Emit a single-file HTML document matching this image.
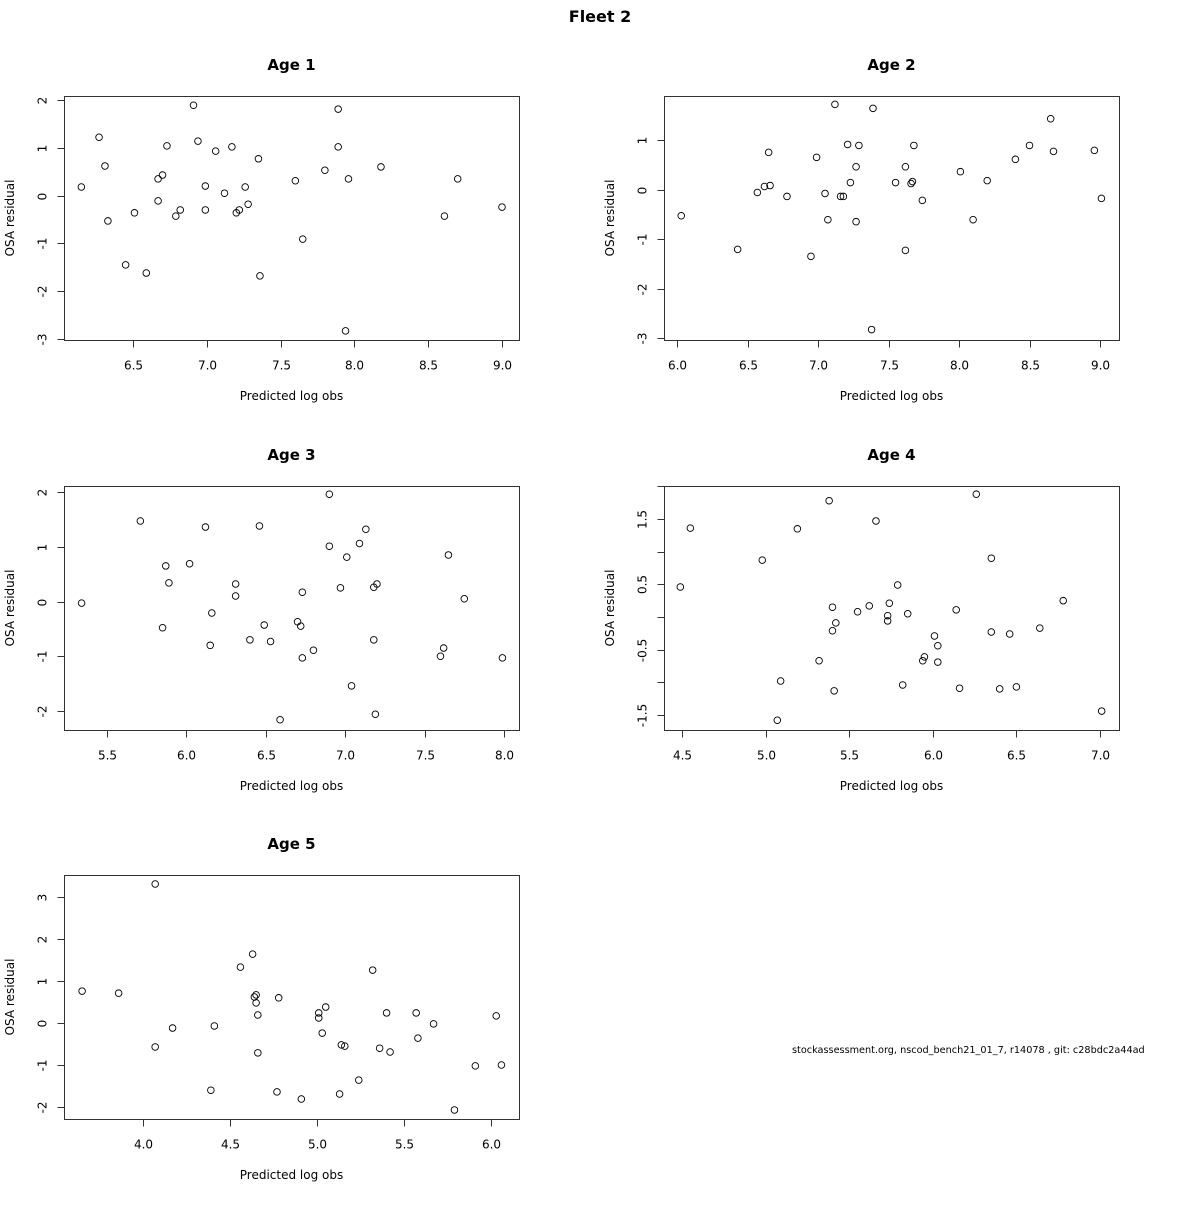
<!DOCTYPE html>
<html><head><meta charset="utf-8"><style>
body{margin:0;background:#fff;}
svg text{font-family:"DejaVu Sans","Liberation Sans",sans-serif;fill:#000;}
</style></head><body>
<svg id="chart" width="1200" height="1200" xmlns="http://www.w3.org/2000/svg">
<rect width="1200" height="1200" fill="#fff"/>
<text x="600" y="22" text-anchor="middle" font-size="16" font-weight="bold">Fleet 2</text>
<text x="792" y="1053" font-size="9.7">stockassessment.org, nscod_bench21_01_7, r14078 , git: c28bdc2a44ad</text>
</svg>
<script>
const age1X=[6.15,6.27,6.31,6.33,6.45,6.51,6.59,6.67,6.70,6.67,6.73,6.79,6.82,6.91,6.94,6.99,6.99,7.06,7.12,7.17,7.20,7.22,7.26,7.28,7.35,7.36,7.60,7.65,7.80,7.89,7.89,7.94,7.96,8.18,8.61,8.70,9.00];
const age1Y=[0.18,1.22,0.62,-0.53,-1.45,-0.36,-1.62,0.35,0.43,-0.11,1.04,-0.43,-0.30,1.89,1.14,0.20,-0.30,0.93,0.05,1.02,-0.36,-0.30,0.18,-0.18,0.77,-1.68,0.31,-0.91,0.53,1.81,1.02,-2.83,0.35,0.60,-0.43,0.35,-0.24];
const age2X=[6.03,6.43,6.57,6.62,6.65,6.66,6.78,6.95,6.99,7.05,7.07,7.12,7.16,7.18,7.21,7.23,7.27,7.27,7.29,7.38,7.39,7.55,7.62,7.62,7.66,7.67,7.68,7.74,8.01,8.10,8.20,8.40,8.50,8.65,8.67,8.96,9.01];
const age2Y=[-0.53,-1.21,-0.06,0.06,0.75,0.08,-0.14,-1.35,0.65,-0.08,-0.61,1.72,-0.14,-0.14,0.91,0.14,0.46,-0.65,0.89,-2.83,1.64,0.14,-1.23,0.46,0.12,0.16,0.89,-0.22,0.36,-0.61,0.18,0.61,0.89,1.43,0.77,0.79,-0.18];
const age3X=[5.34,5.71,5.87,5.89,5.85,6.02,6.12,6.16,6.15,6.31,6.31,6.40,6.46,6.49,6.53,6.59,6.70,6.72,6.73,6.73,6.80,6.90,6.90,6.97,7.01,7.04,7.09,7.13,7.18,7.18,7.19,7.20,7.60,7.62,7.65,7.75,7.99];
const age3Y=[-0.03,1.47,0.65,0.34,-0.48,0.69,1.36,-0.21,-0.80,0.32,0.10,-0.70,1.38,-0.43,-0.73,-2.16,-0.37,-0.45,0.17,-1.03,-0.89,1.96,1.01,0.25,0.81,-1.54,1.06,1.32,0.26,-0.70,-2.06,0.32,-1.00,-0.85,0.85,0.05,-1.03];
const age4X=[4.49,4.55,4.98,5.07,5.09,5.19,5.32,5.38,5.40,5.40,5.41,5.42,5.55,5.62,5.66,5.74,5.73,5.73,5.79,5.82,5.85,5.94,5.95,6.01,6.03,6.03,6.14,6.16,6.26,6.35,6.35,6.40,6.46,6.50,6.64,6.78,7.01];
const age4Y=[0.46,1.36,0.87,-1.58,-0.98,1.35,-0.67,1.78,0.15,-0.21,-1.13,-0.09,0.08,0.17,1.47,0.21,0.02,-0.06,0.49,-1.04,0.05,-0.67,-0.61,-0.29,-0.44,-0.69,0.11,-1.09,1.88,0.90,-0.23,-1.10,-0.26,-1.07,-0.17,0.25,-1.44];
const age5X=[3.65,3.86,4.07,4.07,4.17,4.39,4.41,4.56,4.63,4.64,4.65,4.65,4.66,4.66,4.77,4.78,4.91,5.01,5.01,5.03,5.05,5.13,5.14,5.16,5.24,5.32,5.36,5.40,5.42,5.57,5.58,5.67,5.79,5.91,6.03,6.06];
const age5Y=[0.76,0.71,3.31,-0.57,-0.12,-1.60,-0.07,1.33,1.64,0.62,0.67,0.48,0.19,-0.71,-1.64,0.60,-1.81,0.24,0.12,-0.24,0.38,-1.69,-0.52,-0.55,-1.36,1.26,-0.60,0.24,-0.69,0.24,-0.36,-0.02,-2.07,-1.02,0.17,-1.00];
const xTicks1=[6.5,7.0,7.5,8.0,8.5,9.0], yTicks1=[-3,-2,-1,0,1,2];
const xTicks2=[6.0,6.5,7.0,7.5,8.0,8.5,9.0], yTicks2=[-3,-2,-1,0,1];
const xTicks3=[5.5,6.0,6.5,7.0,7.5,8.0], yTicks3=[-2,-1,0,1,2];
const xTicks4=[4.5,5.0,5.5,6.0,6.5,7.0], yTicks4=[-1.5,-1.0,-0.5,0,0.5,1.0,1.5,2.0];
const yLabels4=["-1.5","","-0.5","","0.5","","1.5",""];
const xTicks5=[4.0,4.5,5.0,5.5,6.0], yTicks5=[-2,-1,0,1,2,3];

const NS="http://www.w3.org/2000/svg";
const svg=document.getElementById('chart');
function mk(tag,attrs,parent){const e=document.createElementNS(NS,tag);for(const k in attrs)e.setAttribute(k,attrs[k]);(parent||svg).appendChild(e);return e;}
function panel(o){
  const g=mk('g',{});
  
  
  const sx=v=>o.xp[0]+(v-o.xv[0])*(o.xp[1]-o.xp[0])/(o.xv[1]-o.xv[0]);
  const sy=v=>o.yp[0]+(v-o.yv[0])*(o.yp[1]-o.yp[0])/(o.yv[1]-o.yv[0]);
  const b=mk('rect',{x:o.box[0]+.5,y:o.box[1]+.5,width:o.box[2]-o.box[0],height:o.box[3]-o.box[1],fill:'none',stroke:'#333','stroke-width':1},g);
  
  
  const t=mk('text',{x:(o.box[0]+o.box[2])/2,y:o.box[1]-26,'text-anchor':'middle','font-size':15,'font-weight':'bold'},g);
  t.textContent=o.title;
  
  
  const xb=o.box[3]+0.5;
  mk('line',{x1:sx(o.xt[0]),x2:sx(o.xt[o.xt.length-1]),y1:xb,y2:xb,stroke:'#333'},g);
  o.xt.forEach(v=>{
    const x=Math.round(sx(v))+.5;
    mk('line',{x1:x,x2:x,y1:xb,y2:xb+7,stroke:'#333'},g);
    const l=mk('text',{x:x,y:xb+29,'text-anchor':'middle','font-size':12},g);
    l.textContent=v.toFixed(1);
    
    
  });
  const xl=mk('text',{x:(o.box[0]+o.box[2])/2,y:o.box[3]+60,'text-anchor':'middle','font-size':12},g);
  xl.textContent='Predicted log obs';
  
  
  const yb=o.box[0]+0.5;
  mk('line',{x1:yb,x2:yb,y1:sy(o.yt[0]),y2:sy(o.yt[o.yt.length-1]),stroke:'#333'},g);
  o.yt.forEach((v,i)=>{
    const y=Math.round(sy(v))+.5;
    mk('line',{x1:yb-7,x2:yb,y1:y,y2:y,stroke:'#333'},g);
    const s=o.yl?o.yl[i]:String(v);
    if(s){
      const l=mk('text',{x:0,y:0,'text-anchor':'middle','font-size':12,transform:`translate(${yb-18},${y}) rotate(-90)`},g);
      l.textContent=s;
      
      
    }
  });
  const yl=mk('text',{x:0,y:0,'text-anchor':'middle','font-size':12,transform:`translate(${o.box[0]-50},${(o.box[1]+o.box[3])/2}) rotate(-90)`},g);
  yl.textContent='OSA residual';
  
  
  o.x.forEach((v,i)=>{
    const c=mk('circle',{cx:sx(v),cy:sy(o.y[i]),r:3.3,fill:'none',stroke:'#000','stroke-width':0.9},g);
    
    
  });
}
panel({id:'age-1',title:'Age 1',box:[64,96,519,340],xv:[6.5,9],xp:[133,502],yv:[2,-3],yp:[100,339],xt:xTicks1,yt:yTicks1,x:age1X,y:age1Y});
panel({id:'age-2',title:'Age 2',box:[664,96,1119,340],xv:[6,9],xp:[677,1100],yv:[1,-3],yp:[140,338],xt:xTicks2,yt:yTicks2,x:age2X,y:age2Y});
panel({id:'age-3',title:'Age 3',box:[64,486,519,730],xv:[5.5,8],xp:[107,504],yv:[2,-2],yp:[492,711],xt:xTicks3,yt:yTicks3,x:age3X,y:age3Y});
panel({id:'age-4',title:'Age 4',box:[664,486,1119,730],xv:[4.5,7],xp:[682,1100],yv:[1.5,-1.5],yp:[519,715],xt:xTicks4,yt:yTicks4,yl:yLabels4,x:age4X,y:age4Y});
panel({id:'age-5',title:'Age 5',box:[64,875,519,1119],xv:[4,6],xp:[143,491],yv:[3,-2],yp:[897,1107],xt:xTicks5,yt:yTicks5,x:age5X,y:age5Y});
</script>
</body></html>
